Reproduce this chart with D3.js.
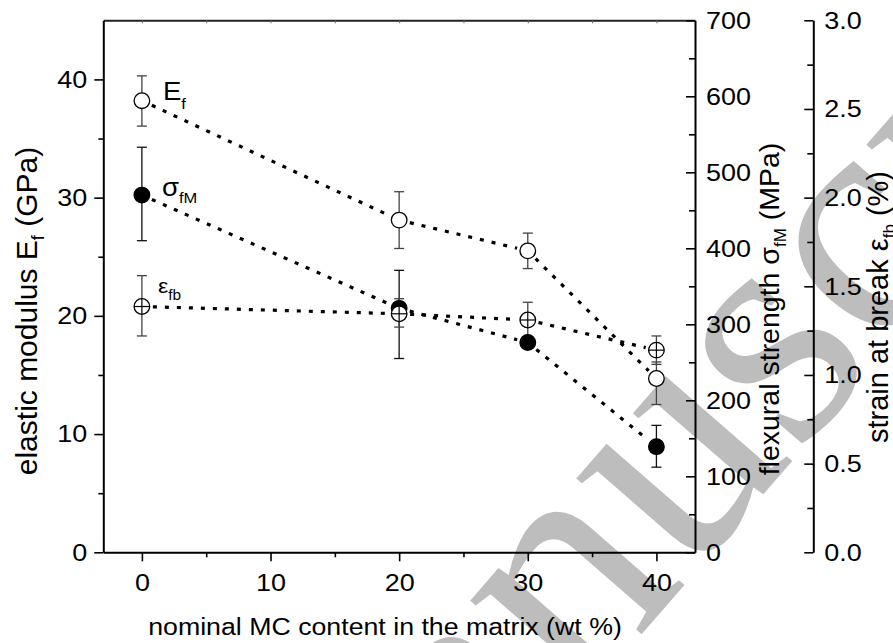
<!DOCTYPE html>
<html><head><meta charset="utf-8">
<script src="https://cdn.jsdelivr.net/npm/d3@7"></script>
<style>
body{margin:0;background:#fff;}
svg text{font-family:"Liberation Sans",Arial,sans-serif;}
</style></head>
<body><svg id="c" width="893" height="643"></svg>
<script>
// ---- data ----
const mcContent = [0, 20, 30, 40];
const modulusE = [38.2, 28.1, 25.5, 14.7];
const modulusLo = [36.05, 25.7, 24.0, 12.5];
const modulusHi = [40.3, 30.5, 27.0, 16.1];
const strengthS = [470, 321, 276, 139];
const strengthLo = [410, 255, 270, 112];
const strengthHi = [533, 371, 282, 167];
const strainB = [1.386, 1.345, 1.31, 1.14];
const strainLo = [1.22, 1.27, 1.21, 1.06];
const strainHi = [1.56, 1.43, 1.41, 1.22];
const xTicks = [0, 10, 20, 30, 40];
const eTicks = [0, 10, 20, 30, 40];
const sTicks = [0, 100, 200, 300, 400, 500, 600, 700];
const epsTicks = [0, 0.5, 1.0, 1.5, 2.0, 2.5, 3.0];

const svg = d3.select("#c");
const L = 103.3, R = 695, T = 20.3, B = 552.3, R2 = 813.3;
const x = d3.scaleLinear().domain([-3, 43]).range([L, R]);
const yE = d3.scaleLinear().domain([0, 45]).range([B, T]);
const yS = d3.scaleLinear().domain([0, 700]).range([B, T]);
const yP = d3.scaleLinear().domain([0, 3]).range([B, T]);
const SX = 1.1;

// watermark
svg.append("text").text("manuscript")
  .attr("transform", "translate(315,1010) rotate(-49)")
  .style("font-family", "'Liberation Serif','Times New Roman',serif")
  .style("font-size", "330px").attr("fill", "#bdbdbd");

const fs = "24.5px";
function stretch(sel) {
  sel.each(function () {
    const t = d3.select(this), bb = this.getBBox();
    const a = t.attr("text-anchor") || getComputedStyle(this).textAnchor || "start";
    const ax = a === "end" ? bb.x + bb.width : a === "middle" ? bb.x + bb.width / 2 : bb.x;
    t.attr("transform", `translate(${ax},0) scale(${SX},1) translate(${-ax},0)`);
  });
}
function styleAxis(g) {
  g.selectAll("path.domain").attr("stroke", "#000").attr("stroke-width", 2);
  g.selectAll(".tick line").attr("stroke", "#000").attr("stroke-width", 1.6);
  g.selectAll("text").style("font-size", fs).attr("fill", "#000")
    .style("font-family", "'Liberation Sans',Arial,sans-serif");
  stretch(g.selectAll("text"));
}
function minor(g) { g.select("path.domain").remove(); g.selectAll("line").attr("stroke", "#000").attr("stroke-width", 1.6); }
// bottom axis
const gb = svg.append("g").attr("transform", `translate(0,${B})`)
  .call(d3.axisBottom(x).tickValues(xTicks).tickSize(9).tickPadding(12).tickSizeOuter(0).tickFormat(d3.format("d")));
styleAxis(gb);
svg.append("g").attr("transform", `translate(0,${B})`)
  .call(d3.axisBottom(x).tickValues([5, 15, 25, 35]).tickSize(5).tickFormat("").tickSizeOuter(0)).call(minor);
// top axis
const gt = svg.append("g").attr("transform", `translate(0,${T})`)
  .call(d3.axisBottom(x).tickValues([0, 5, 10, 15, 20, 25, 30, 35, 40]).tickSize(3).tickFormat("").tickSizeOuter(0));
gt.select("path.domain").attr("stroke", "#222").attr("stroke-width", 2);
gt.selectAll("line").attr("stroke", "#666").attr("stroke-width", 1);
// left axis
const gl = svg.append("g").attr("transform", `translate(${L},0)`)
  .call(d3.axisLeft(yE).tickValues(eTicks).tickSize(9).tickPadding(7).tickSizeOuter(0));
styleAxis(gl);
svg.append("g").attr("transform", `translate(${L},0)`)
  .call(d3.axisLeft(yE).tickValues([5, 15, 25, 35]).tickSize(5).tickFormat("").tickSizeOuter(0)).call(minor);
// sigma axis
const gs = svg.append("g").attr("transform", `translate(${R},0)`)
  .call(d3.axisRight(yS).tickValues(sTicks).tickSizeInner(-9).tickSizeOuter(0).tickPadding(11));
styleAxis(gs);
svg.append("g").attr("transform", `translate(${R},0)`)
  .call(d3.axisRight(yS).tickValues([50, 150, 250, 350, 450, 550, 650]).tickSizeInner(-6).tickSizeOuter(0).tickFormat("")).call(minor);
// strain axis
const gp = svg.append("g").attr("transform", `translate(${R2},0)`)
  .call(d3.axisRight(yP).tickValues(epsTicks).tickSizeInner(-9).tickSizeOuter(0).tickPadding(11).tickFormat(d3.format(".1f")));
styleAxis(gp);
svg.append("g").attr("transform", `translate(${R2},0)`)
  .call(d3.axisRight(yP).tickValues([0.25, 0.75, 1.25, 1.75, 2.25, 2.75]).tickSizeInner(-6).tickSizeOuter(0).tickFormat("")).call(minor);

// axis titles
const tx = svg.append("text").attr("x", 385).attr("y", 635).attr("text-anchor", "middle")
  .style("font-size", "24.3px").text("nominal MC content in the matrix (wt %)");
stretch(tx);
function vtitle(tr, a, b, c, fsz, sub) {
  const t = svg.append("text").attr("transform", tr).attr("text-anchor", "middle").style("font-size", fsz);
  t.append("tspan").text(a);
  t.append("tspan").attr("dy", 7).style("font-size", sub).text(b);
  t.append("tspan").attr("dy", -7).text(c);
}
vtitle("translate(37,311) rotate(-90)", "elastic modulus E", "f", " (GPa)", "30px", "18px");
vtitle("translate(779,309) rotate(-90)", "flexural strength σ", "fM", " (MPa)", "28.5px", "17px");
vtitle("translate(888,307) rotate(-90)", "strain at break ε", "fb", " (%)", "29px", "17px");

// series
const series = [
  {v: modulusE, lo: modulusLo, hi: modulusHi, y: yE, kind: "open", ec: "#444"},
  {v: strengthS, lo: strengthLo, hi: strengthHi, y: yS, kind: "filled", ec: "#111"},
  {v: strainB, lo: strainLo, hi: strainHi, y: yP, kind: "cross", ec: "#444"}
];
const gap = 11, r = 7.8;
// error bars
series.forEach(s => {
  const g = svg.append("g").attr("stroke", s.ec).attr("stroke-width", 1.3);
  mcContent.forEach((c, i) => {
    const cx = x(c);
    g.append("line").attr("x1", cx).attr("x2", cx).attr("y1", s.y(s.lo[i])).attr("y2", s.y(s.hi[i]));
    g.append("line").attr("x1", cx - 5).attr("x2", cx + 5).attr("y1", s.y(s.lo[i])).attr("y2", s.y(s.lo[i]));
    g.append("line").attr("x1", cx - 5).attr("x2", cx + 5).attr("y1", s.y(s.hi[i])).attr("y2", s.y(s.hi[i]));
  });
});
// dotted connecting lines
const line = d3.line();
series.forEach(s => {
  for (let i = 0; i < mcContent.length - 1; i++) {
    const x1 = x(mcContent[i]), y1 = s.y(s.v[i]), x2 = x(mcContent[i + 1]), y2 = s.y(s.v[i + 1]);
    const len = Math.hypot(x2 - x1, y2 - y1), ux = (x2 - x1) / len, uy = (y2 - y1) / len;
    svg.append("path").attr("d", line([[x1 + ux * gap, y1 + uy * gap], [x2 - ux * gap, y2 - uy * gap]]))
      .attr("fill", "none").attr("stroke", "#000").attr("stroke-width", 3.2).attr("stroke-dasharray", "4,8");
  }
});
// markers
series.forEach(s => {
  mcContent.forEach((c, i) => {
    const cx = x(c), cy = s.y(s.v[i]);
    svg.append("circle").attr("cx", cx).attr("cy", cy).attr("r", r)
      .attr("fill", s.kind === "filled" ? "#000" : "#fff").attr("stroke", "#000").attr("stroke-width", 1.3);
    if (s.kind === "cross") {
      svg.append("line").attr("x1", cx - r).attr("x2", cx + r).attr("y1", cy).attr("y2", cy).attr("stroke", "#000").attr("stroke-width", 1.2);
      svg.append("line").attr("x1", cx).attr("x2", cx).attr("y1", cy - r).attr("y2", cy + r).attr("stroke", "#000").attr("stroke-width", 1.2);
    }
  });
});
// series labels
const l1 = svg.append("text").attr("x", 163).attr("y", 100).style("font-size", "25px");
l1.append("tspan").text("E"); l1.append("tspan").attr("dy", 9).style("font-size", "15px").text("f");
const l2 = svg.append("text").attr("x", 162).attr("y", 196).style("font-size", "25px");
l2.append("tspan").text("σ"); l2.append("tspan").attr("dy", 7).style("font-size", "15px").text("fM");
const l3 = svg.append("text").attr("x", 158).attr("y", 293).style("font-size", "21px");
l3.append("tspan").text("ε"); l3.append("tspan").attr("dy", 7).style("font-size", "14px").text("fb");
stretch(l1); stretch(l2); stretch(l3);
</script></body></html>
